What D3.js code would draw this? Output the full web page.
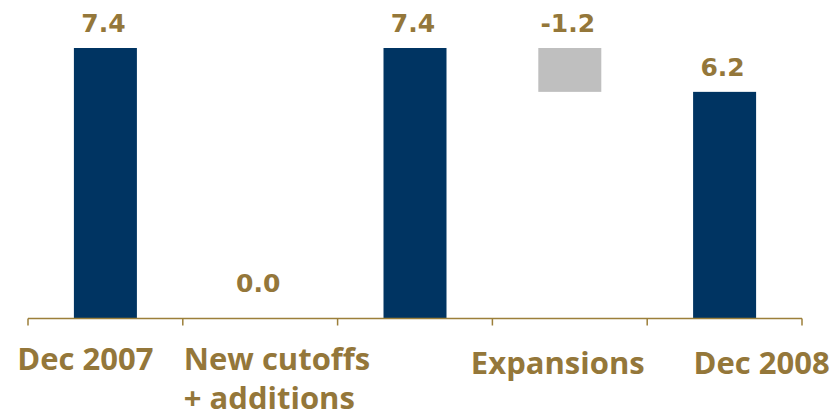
<!DOCTYPE html>
<html>
<head>
<meta charset="utf-8">
<script src="https://cdn.jsdelivr.net/npm/d3@7/dist/d3.min.js"></script>
<style>
  html, body { margin: 0; padding: 0; background: #ffffff; }
  svg { display: block; }
</style>
</head>
<body>
<svg id="chart" width="835" height="414"></svg>
<script>
// Reserve waterfall, December 2007 to December 2008
const categories = ["Dec 2007", "New cutoffs\n+ additions", "", "Expansions", "Dec 2008"];
const values = [7.4, 0.0, 7.4, -1.2, 6.2];
const barKinds = ["total", "delta", "total", "delta", "total"];
const valueLabels = ["7.4", "0.0", "7.4", "-1.2", "6.2"];

// Placement of the category captions: anchor and offset from the band centre
// ("start" captions hang from the band's left boundary instead)
const captionLayout = [
  { dx: -20, dy: 0, anchor: "middle" },
  { dx: 1, dy: 0, anchor: "start" },
  { dx: 0, dy: 0, anchor: "middle" },
  { dx: -12, dy: 4, anchor: "middle" },
  { dx: 37, dy: 4, anchor: "middle" }
];

const navy = "#003462";
const grey = "#bfbfbf";
const gold = "#94773a";
const axisGold = "#9c7f3a";

const svg = d3.select("#chart");
const left = 28, right = 802, baseY = 318.5, topY = 48;

// running level for the floating bars
let level = 0;
const bars = values.map((v, i) => {
  let y0, y1;
  if (barKinds[i] === "total") { y0 = 0; y1 = v; level = v; }
  else { y0 = level; y1 = level + v; level = y1; }
  return { i, cat: categories[i], v, kind: barKinds[i], lo: Math.min(y0, y1), hi: Math.max(y0, y1) };
});

const x = d3.scaleBand()
  .domain(d3.range(categories.length))
  .range([left, right])
  .paddingInner(0.593)
  .paddingOuter(0.2965);

const y = d3.scaleLinear()
  .domain([0, d3.max(values)])
  .range([baseY, topY]);

// bars
svg.append("g")
  .selectAll("rect")
  .data(bars.filter(d => d.hi > d.lo))
  .join("rect")
  .attr("x", d => x(d.i))
  .attr("width", x.bandwidth())
  .attr("y", d => y(d.hi))
  .attr("height", d => y(d.lo) - y(d.hi))
  .attr("fill", d => d.kind === "total" ? navy : grey);

// value labels above each bar; a zero change sits just above the axis
svg.append("g")
  .selectAll("text")
  .data(bars)
  .join("text")
  .attr("x", d => x(d.i) + x.bandwidth() / 2 - 2)
  .attr("y", d => (d.hi > d.lo ? y(d.hi) : y(0)) - (d.hi > d.lo ? 16 : 27))
  .attr("text-anchor", "middle")
  .attr("font-family", "'DejaVu Sans', Verdana, sans-serif")
  .attr("font-weight", "bold")
  .attr("font-size", 25)
  .attr("fill", gold)
  .text(d => valueLabels[d.i]);

// category axis: baseline with ticks on the band boundaries
const axis = svg.append("g").attr("stroke", axisGold).attr("stroke-width", 1.5);
axis.append("line")
  .attr("x1", left).attr("x2", right)
  .attr("y1", baseY).attr("y2", baseY);
axis.selectAll("line.tick")
  .data(d3.range(categories.length + 1))
  .join("line")
  .attr("class", "tick")
  .attr("x1", i => left + i * x.step()).attr("x2", i => left + i * x.step())
  .attr("y1", baseY).attr("y2", baseY + 7);

// category captions
const captionX = i => {
  const l = captionLayout[i];
  const base = l.anchor === "start" ? left + i * x.step() : x(i) + x.bandwidth() / 2;
  return base + l.dx;
};

const caps = svg.append("g")
  .selectAll("text")
  .data(categories.map((c, i) => ({ c, i })))
  .join("text")
  .attr("x", d => captionX(d.i))
  .attr("y", d => 370 + captionLayout[d.i].dy)
  .attr("text-anchor", d => captionLayout[d.i].anchor)
  .attr("font-family", "'Open Sans', sans-serif")
  .attr("font-weight", "bold")
  .attr("font-size", 31)
  .attr("fill", gold);

caps.selectAll("tspan")
  .data(d => d.c.split("\n").map((t, k) => ({ t, k, d })))
  .join("tspan")
  .attr("x", s => captionX(s.d.i))
  .attr("dy", s => s.k === 0 ? 0 : 39)
  .text(s => s.t);
</script>
</body>
</html>
